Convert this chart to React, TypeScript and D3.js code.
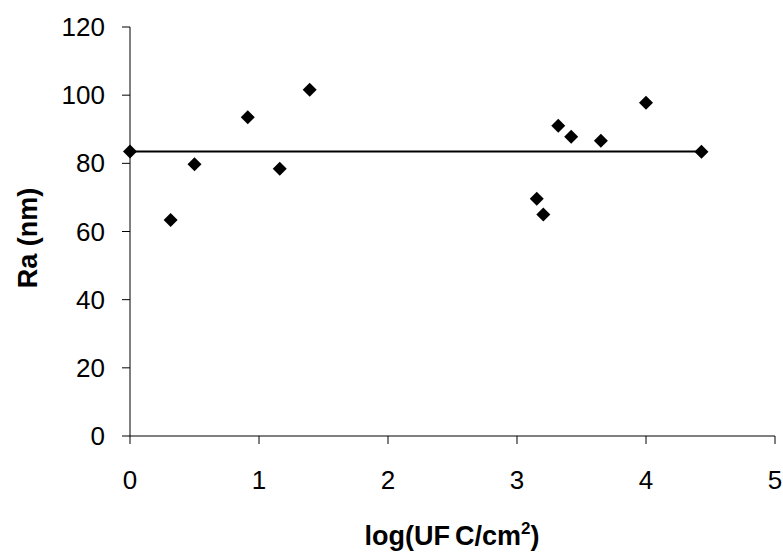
import React from "react";
import * as d3 from "d3";

const xValues = [0, 0.315, 0.5, 0.913, 1.161, 1.393, 3.153, 3.204, 3.32, 3.42, 3.65, 4.0, 4.43];
const yValues = [83.5, 63.4, 79.7, 93.5, 78.4, 101.6, 69.6, 65.0, 91.0, 87.8, 86.6, 97.8, 83.4];
const meanLine = { x0: 0, x1: 4.43, y: 83.5 };
const xTicks = [0, 1, 2, 3, 4, 5];
const yTicks = [0, 20, 40, 60, 80, 100, 120];

const W = 783;
const H = 552;
const font = "'Liberation Sans', Arial, sans-serif";

export default function App() {
  const x = d3.scaleLinear().domain([0, 5]).range([130, 775]);
  const y = d3.scaleLinear().domain([0, 120]).range([436, 27]);
  const diamond = d3.symbol().type(d3.symbolDiamond2).size(125)();

  return (
    <svg width={W} height={H} style={{ position: "absolute", left: 0, top: 0, background: "#fff" }} fontFamily={font}>
      <rect width={W} height={H} fill="#fff" />
      {/* axes */}
      <line x1={x(0)} x2={x(0)} y1={y(120)} y2={y(0)} stroke="#000" strokeWidth={1} />
      <line x1={x(0)} x2={x(5)} y1={y(0)} y2={y(0)} stroke="#000" strokeWidth={1} />
      {yTicks.map((t) => (
        <g key={"y" + t}>
          <line x1={x(0) - 8} x2={x(0)} y1={y(t)} y2={y(t)} stroke="#000" />
          <text x={x(0) - 25} y={y(t)} dy="0.35em" textAnchor="end" fontSize={26}>{t}</text>
        </g>
      ))}
      {xTicks.map((t) => (
        <g key={"x" + t}>
          <line x1={x(t)} x2={x(t)} y1={y(0)} y2={y(0) + 8} stroke="#000" />
          <text x={x(t)} y={489} textAnchor="middle" fontSize={26}>{t}</text>
        </g>
      ))}
      {/* mean line */}
      <line x1={x(meanLine.x0)} x2={x(meanLine.x1)} y1={y(meanLine.y)} y2={y(meanLine.y)} stroke="#000" strokeWidth={2} />
      {/* points */}
      {xValues.map((v, i) => (
        <path key={i} d={diamond!} transform={`translate(${x(v)},${y(yValues[i])})`} fill="#000" />
      ))}
      {/* titles */}
      <text x={452} y={545} textAnchor="middle" fontSize={27} fontWeight="bold">
        log(UF<tspan dx="5">C/cm</tspan><tspan dy="-11" fontSize={17}>2</tspan><tspan dy="11">)</tspan>
      </text>
      <text transform={`translate(37,${238}) rotate(-90)`} textAnchor="middle" fontSize={27} fontWeight="bold">Ra (nm)</text>
    </svg>
  );
}
